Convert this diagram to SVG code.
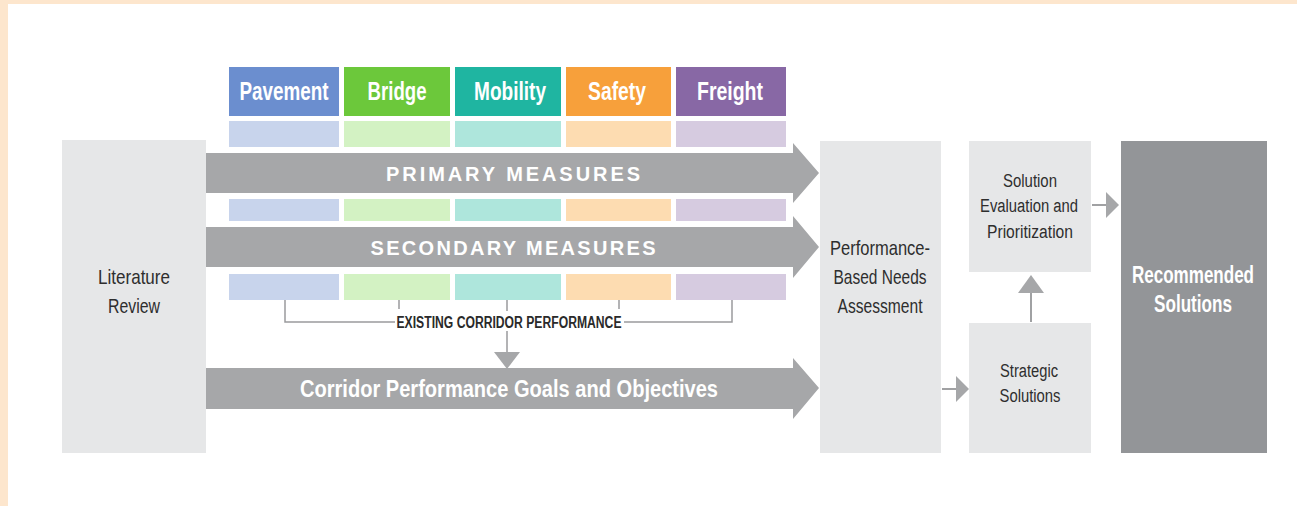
<svg xmlns="http://www.w3.org/2000/svg" width="1297" height="506" viewBox="0 0 1297 506">
<defs>
<style>
.t{font-family:"Liberation Sans Narrow","Liberation Sans",Arial,sans-serif;text-anchor:middle}
.hd{font-size:25px;font-weight:bold;fill:#ffffff}
.ar{font-size:20px;font-weight:bold;fill:#ffffff}
.bx{font-size:21px;fill:#2e2e2e}
.sm{font-size:18px;fill:#2e2e2e}
.box{fill:#e6e7e8}
.arrow{fill:#a6a7a9}
.conn{stroke:#a0a1a3;stroke-width:2;fill:none}
.head{fill:#a6a7a9}
.brk{stroke:#9a9b9d;stroke-width:1.5;fill:none}
</style>
</defs>
<rect x="0" y="0" width="1297" height="506" fill="#ffffff"/>
<rect x="0" y="0" width="1297" height="4" fill="#fde6cd"/>
<rect x="0" y="0" width="8" height="506" fill="#fde6cd"/>

<g id="literature-review">
<rect class="box" x="62" y="140" width="144" height="313"/>
<text class="t bx" x="134" y="284" textLength="72" lengthAdjust="spacingAndGlyphs">Literature</text>
<text class="t bx" x="134" y="313" textLength="52" lengthAdjust="spacingAndGlyphs">Review</text>
</g>

<g id="categories">
<rect x="229" y="67" width="110" height="49" fill="#6b8ecf"/>
<rect x="344" y="67" width="106" height="49" fill="#6cc83b"/>
<rect x="455" y="67" width="106" height="49" fill="#1fb5a1"/>
<rect x="566" y="67" width="105" height="49" fill="#f7a03b"/>
<rect x="676" y="67" width="110" height="49" fill="#8868a5"/>
<text class="t hd" x="284" y="100" textLength="89" lengthAdjust="spacingAndGlyphs">Pavement</text>
<text class="t hd" x="397" y="100" textLength="59" lengthAdjust="spacingAndGlyphs">Bridge</text>
<text class="t hd" x="510" y="100" textLength="72" lengthAdjust="spacingAndGlyphs">Mobility</text>
<text class="t hd" x="617" y="100" textLength="58" lengthAdjust="spacingAndGlyphs">Safety</text>
<text class="t hd" x="730" y="100" textLength="66" lengthAdjust="spacingAndGlyphs">Freight</text>
</g>

<g id="measure-cells">
<rect x="229" y="121" width="110" height="26" fill="#c8d4ec"/>
<rect x="344" y="121" width="106" height="26" fill="#d3f2c3"/>
<rect x="455" y="121" width="106" height="26" fill="#aee6dc"/>
<rect x="566" y="121" width="105" height="26" fill="#fddcb1"/>
<rect x="676" y="121" width="110" height="26" fill="#d6cbe0"/>
<rect x="229" y="199" width="110" height="22" fill="#c8d4ec"/>
<rect x="344" y="199" width="106" height="22" fill="#d3f2c3"/>
<rect x="455" y="199" width="106" height="22" fill="#aee6dc"/>
<rect x="566" y="199" width="105" height="22" fill="#fddcb1"/>
<rect x="676" y="199" width="110" height="22" fill="#d6cbe0"/>
<rect x="229" y="274" width="110" height="26" fill="#c8d4ec"/>
<rect x="344" y="274" width="106" height="26" fill="#d3f2c3"/>
<rect x="455" y="274" width="106" height="26" fill="#aee6dc"/>
<rect x="566" y="274" width="105" height="26" fill="#fddcb1"/>
<rect x="676" y="274" width="110" height="26" fill="#d6cbe0"/>
</g>

<g id="primary-measures">
<polygon class="arrow" points="206,153 793,153 793,143 819,173 793,203 793,193 206,193"/>
<text class="t ar" x="513" y="181" textLength="254" lengthAdjust="spacing">PRIMARY MEASURES</text>
</g>

<g id="secondary-measures">
<polygon class="arrow" points="206,227 793,227 793,216 819,247 793,278 793,267 206,267"/>
<text class="t ar" x="513" y="255" textLength="285" lengthAdjust="spacing">SECONDARY MEASURES</text>
</g>

<g id="existing-corridor-performance">
<text class="t" x="509" y="328" font-size="16" font-weight="bold" fill="#2a2a2a" textLength="225" lengthAdjust="spacingAndGlyphs">EXISTING CORRIDOR PERFORMANCE</text>
</g>

<g id="corridor-goals">
<polygon class="arrow" points="206,368 793,368 793,358 819,388 793,419 793,409 206,409"/>
<text class="t" x="509" y="397" font-size="24" font-weight="bold" fill="#ffffff" textLength="418" lengthAdjust="spacingAndGlyphs">Corridor Performance Goals and Objectives</text>
</g>

<g id="needs-assessment">
<rect class="box" x="820" y="141" width="121" height="312"/>
<text class="t bx" x="880" y="255" textLength="100" lengthAdjust="spacingAndGlyphs">Performance-</text>
<text class="t bx" x="880" y="284" textLength="93" lengthAdjust="spacingAndGlyphs">Based Needs</text>
<text class="t bx" x="880" y="313" textLength="85" lengthAdjust="spacingAndGlyphs">Assessment</text>
</g>

<g id="solution-evaluation">
<rect class="box" x="969" y="141" width="122" height="131"/>
<text class="t sm" x="1030" y="187" textLength="54" lengthAdjust="spacingAndGlyphs">Solution</text>
<text class="t sm" x="1029" y="212" textLength="98" lengthAdjust="spacingAndGlyphs">Evaluation and</text>
<text class="t sm" x="1030" y="238" textLength="86" lengthAdjust="spacingAndGlyphs">Prioritization</text>
</g>

<g id="strategic-solutions">
<rect class="box" x="969" y="323" width="122" height="130"/>
<text class="t sm" x="1029" y="377" textLength="58" lengthAdjust="spacingAndGlyphs">Strategic</text>
<text class="t sm" x="1030" y="402" textLength="61" lengthAdjust="spacingAndGlyphs">Solutions</text>
</g>

<g id="recommended-solutions">
<rect x="1121" y="141" width="146" height="312" fill="#939598"/>
<text class="t" x="1193" y="283" font-size="23" font-weight="bold" fill="#ffffff" textLength="122" lengthAdjust="spacingAndGlyphs">Recommended</text>
<text class="t" x="1193" y="312" font-size="23" font-weight="bold" fill="#ffffff" textLength="78" lengthAdjust="spacingAndGlyphs">Solutions</text>
</g>

<g id="connectors">
<path class="brk" d="M285,300 V322 H395 M624,322 H732 V300 M399,300 V309 M619,300 V309 M507,300 V311 M507,331 V354"/>
<polygon class="head" points="494,352 520,352 507,369"/>
<path class="conn" d="M942,389 H958"/>
<polygon class="head" points="956,376 969,389 956,402"/>
<path class="conn" d="M1031,322 V291"/>
<polygon class="head" points="1018,293 1031,275 1044,293"/>
<path class="conn" d="M1092,205 H1108"/>
<polygon class="head" points="1106,192 1119,205 1106,218"/>
</g>
</svg>
